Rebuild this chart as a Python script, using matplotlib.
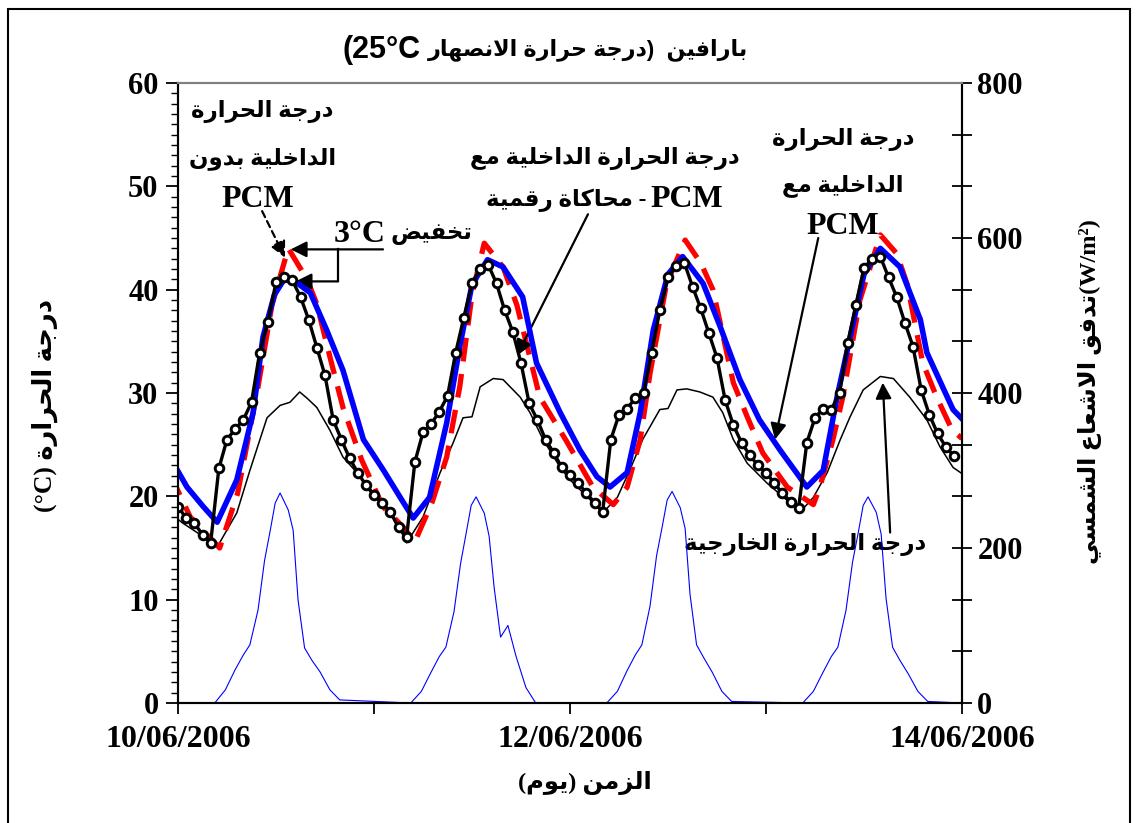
import re
import matplotlib
matplotlib.use("Agg")
import matplotlib.pyplot as plt
from matplotlib.ticker import MultipleLocator, FixedLocator
from matplotlib.patches import Rectangle

# ----------------------------
# DATA  (time in hours from 10/06/2006 00:00)
# ----------------------------
date_ticks = [0, 48, 96]
date_labels = ["10/06/2006", "12/06/2006", "14/06/2006"]

# indoor temperature without PCM (red dashed)
t_nopcm = [-1.0, 1.5, 3.1, 5.1, 7.3, 9.8, 11.5, 13.5, 15.8, 17.0, 18.6, 20.2, 22.5,
           25.1, 27.6, 29.0, 31.1, 32.9, 34.5, 36.0, 37.5, 39.8, 41.5, 44.3, 47.6,
           50.8, 53.3, 55.0, 56.6, 57.8, 59.8, 62.1, 64.0, 65.5, 68.0, 69.7, 71.6,
           74.6, 77.8, 78.6, 80.2, 81.4, 83.5, 86.0, 88.0, 89.3, 91.2, 92.9, 94.8, 96.0]
T_nopcm = [22.2, 18.0, 16.7, 15.0, 20.3, 30.6, 38.5, 44.0, 41.0, 38.6, 33.5, 28.6, 23.5,
           19.0, 17.0, 15.6, 19.4, 23.8, 30.6, 39.5, 44.5, 42.2, 38.5, 29.6, 25.3,
           20.9, 19.2, 20.9, 25.5, 31.9, 40.5, 44.8, 42.6, 40.0, 31.0, 27.7, 24.2,
           20.9, 19.2, 20.9, 25.5, 29.6, 39.0, 45.3, 43.5, 40.5, 32.9, 29.6, 26.4, 25.6]

# indoor temperature with PCM, measured (blue)
t_pcm = [-1.0, 1.1, 3.1, 4.8, 7.2, 9.2, 10.4, 11.8, 13.0, 14.5, 16.2, 18.2, 20.2,
         22.7, 25.1, 27.6, 28.8, 30.8, 32.9, 34.5, 36.0, 37.9, 39.8, 42.2, 43.9,
         46.8, 49.2, 51.3, 52.9, 55.0, 56.6, 58.2, 60.0, 61.8, 64.3, 66.4, 68.8,
         71.2, 73.7, 77.0, 79.0, 80.7, 82.3, 84.0, 86.0, 88.4, 90.9, 91.7, 94.9, 96.0]
T_pcm = [23.8, 20.9, 19.0, 17.5, 21.6, 28.1, 35.4, 39.5, 41.0, 40.7, 39.7, 36.1, 32.2,
         25.5, 22.6, 19.4, 17.9, 19.9, 27.1, 34.5, 40.5, 42.9, 42.2, 39.3, 32.9,
         28.1, 24.5, 21.9, 20.9, 22.3, 28.1, 36.1, 41.5, 43.2, 40.6, 36.4, 31.3,
         27.4, 24.5, 20.9, 22.5, 29.6, 35.4, 41.5, 44.0, 42.2, 37.1, 33.9, 28.4, 27.5]

# indoor temperature with PCM, numerical simulation (black + circles), hourly from -1 h
T_sim = [19.8, 19.0, 17.9, 17.4, 16.3, 15.5, 22.7, 25.5, 26.5, 27.4, 29.1, 33.9, 36.9,
         40.7, 41.2, 40.9, 39.3, 37.1, 34.4, 31.7, 27.4, 25.5, 23.7, 22.3, 21.1,
         20.1, 19.4, 18.5, 17.0, 16.1, 23.3, 26.2, 27.0, 28.2, 29.7, 33.9, 37.3,
         40.6, 42.0, 42.4, 40.6, 38.0, 35.9, 32.9, 29.0, 27.4, 25.5, 24.2, 22.8,
         22.1, 21.3, 20.3, 19.4, 18.5, 25.5, 27.9, 28.5, 29.5, 30.0, 33.9, 38.0,
         41.2, 42.3, 42.6, 40.3, 38.2, 35.8, 33.4, 29.3, 26.9, 25.2, 24.0, 23.0,
         22.3, 21.3, 20.3, 19.5, 18.9, 25.2, 27.6, 28.5, 28.4, 30.0, 34.8, 38.5,
         42.1, 43.0, 43.2, 41.2, 39.3, 36.8, 34.5, 30.3, 27.9, 26.1, 24.8, 23.9]
t_sim = list(range(-1, len(T_sim) - 1))

# outdoor temperature (thin black)
t_out = [-1.0, 0.6, 3.1, 4.8, 7.2, 8.8, 10.9, 12.5, 13.7, 14.9, 15.8, 17.0, 18.6,
         20.2, 21.9, 24.4, 26.8, 28.0, 30.0, 32.1, 33.7, 34.9, 36.0, 37.0, 38.6,
         39.8, 41.9, 43.1, 44.7, 46.8, 48.0, 48.9, 50.8, 52.0, 53.8, 55.3, 56.9,
         59.0, 60.0, 61.1, 62.3, 63.9, 65.5, 66.7, 68.0, 69.7, 72.1, 74.6, 76.2,
         77.8, 79.5, 81.1, 82.3, 83.9, 86.0, 87.6, 89.6, 91.7, 93.3, 94.9, 96.0]
T_out = [18.4, 17.4, 16.1, 15.1, 18.4, 22.5, 27.6, 28.8, 29.1, 30.1, 29.5, 28.6, 26.4,
         23.8, 22.3, 19.9, 17.4, 15.5, 18.0, 22.3, 25.2, 27.6, 27.7, 30.6, 31.4,
         31.3, 29.6, 28.1, 25.5, 22.8, 21.6, 20.9, 19.4, 18.4, 19.9, 22.5, 25.5,
         28.4, 28.5, 30.3, 30.4, 30.1, 29.6, 28.1, 25.5, 23.2, 21.3, 19.6, 18.5,
         19.9, 22.3, 25.5, 27.7, 30.3, 31.6, 31.4, 29.6, 27.4, 24.8, 22.8, 22.2]

# solar radiation (thin blue, right axis): local hour of day and one row per day
rad_hours = [4.5, 5.8, 7.0, 8.0, 8.8, 9.8, 10.6, 11.3, 11.9, 12.5, 13.5, 14.1, 14.7,
             15.5, 16.4, 17.4, 18.6, 19.8]
rad_day1 = [0, 17, 43, 62, 75, 120, 184, 223, 258, 271, 249, 223, 133, 71, 55, 40, 17, 4]
rad_day2 = [0, 15, 40, 60, 72, 118, 180, 220, 255, 266, 245, 215, 150, 85, 100, 60, 20, 0]
rad_day3 = [0, 15, 42, 62, 75, 125, 190, 228, 262, 273, 252, 225, 140, 75, 58, 40, 15, 2]
rad_day4 = [0, 15, 40, 60, 72, 120, 182, 220, 255, 266, 246, 218, 135, 72, 55, 38, 15, 2]


# ----------------------------
# Arabic shaping (matplotlib draws glyphs left to right, no joining)
# ----------------------------
def forms(base, dual=True):
    return (base, base + 1, base + 2, base + 3) if dual else (base, base + 1, None, None)


FORMS = {
    'ا': forms(0xFE8D, False), 'ب': forms(0xFE8F), 'ة': forms(0xFE93, False),
    'ت': forms(0xFE95), 'ج': forms(0xFE9D), 'ح': forms(0xFEA1), 'خ': forms(0xFEA5),
    'د': forms(0xFEA9, False), 'ر': forms(0xFEAD, False), 'ز': forms(0xFEAF, False),
    'س': forms(0xFEB1), 'ش': forms(0xFEB5), 'ص': forms(0xFEB9), 'ض': forms(0xFEBD),
    'ع': forms(0xFEC9), 'ف': forms(0xFED1), 'ق': forms(0xFED5), 'ك': forms(0xFED9),
    'ل': forms(0xFEDD), 'م': forms(0xFEE1), 'ن': forms(0xFEE5), 'ه': forms(0xFEE9),
    'و': forms(0xFEED, False), 'ي': forms(0xFEF1),
}
MIRROR = {'(': ')', ')': '('}


def shape_word(w):
    out, prev_joins, i = [], False, 0
    while i < len(w):
        c = w[i]
        if c == 'ل' and i + 1 < len(w) and w[i + 1] == 'ا':
            out.append(chr(0xFEFC if prev_joins else 0xFEFB))
            prev_joins = False
            i += 2
            continue
        iso, fin, ini, med = FORMS[c]
        if ini is not None and i + 1 < len(w) and w[i + 1] in FORMS:
            out.append(chr(med if prev_joins else ini))
            prev_joins = True
        else:
            out.append(chr(fin if prev_joins else iso))
            prev_joins = False
        i += 1
    return ''.join(reversed(out))


def ar(text):
    runs = re.findall(r'[\u0621-\u064A]+|[A-Za-z0-9°/²]+|\s+|.', text)
    out = []
    for r in reversed(runs):
        if re.match(r'[\u0621-\u064A]', r):
            out.append(shape_word(r))
        else:
            out.append(MIRROR.get(r, r))
    return ''.join(out)


# ----------------------------
# FIGURE
# ----------------------------
plt.rcParams['font.family'] = ['Liberation Serif', 'DejaVu Sans']
plt.rcParams['font.weight'] = 'bold'

W, H = 1136, 823
fig = plt.figure(figsize=(W / 100, H / 100), dpi=100)
ax = fig.add_axes([178 / W, 1 - 703 / H, (962 - 178) / W, (703 - 83) / H])
ax2 = ax.twinx()

ax.plot(t_out, T_out, color='black', lw=1.1, zorder=2)
ax.plot(t_nopcm, T_nopcm, color='#ff0000', lw=3.8, ls=(0, (4.5, 2.4)), zorder=3)
ax.plot(t_pcm, T_pcm, color='#0000ff', lw=4.0, zorder=4)
ax.plot(t_sim, T_sim, color='black', lw=2.4, marker='o', ms=6.2, mfc='white',
        mec='black', mew=2.1, zorder=5)

rad_t, rad_v = [-1.0], [0]
for d, vals in enumerate([rad_day1, rad_day2, rad_day3, rad_day4]):
    rad_t += [24 * d + h for h in rad_hours]
    rad_v += vals
rad_t.append(96.0)
rad_v.append(0)
ax2.plot(rad_t, rad_v, color='#0000ff', lw=0.8)

# axes
ax.set_xlim(0, 96)
ax.set_ylim(0, 60)
ax2.set_ylim(0, 800)
ax.xaxis.set_major_locator(FixedLocator(date_ticks))
ax.set_xticklabels(date_labels)
ax.xaxis.set_minor_locator(FixedLocator([24, 72]))
ax.yaxis.set_major_locator(MultipleLocator(10))
ax.yaxis.set_minor_locator(MultipleLocator(1))
ax2.yaxis.set_major_locator(MultipleLocator(200))
ax2.yaxis.set_minor_locator(MultipleLocator(200 / 3))

ax.tick_params(axis='x', which='both', direction='out', length=8, width=1.3,
               labelsize=23, pad=8)
ax.tick_params(axis='y', which='major', direction='out', length=9, width=1.3,
               labelsize=22, pad=5)
ax.tick_params(axis='y', which='minor', direction='out', length=5, width=1.0)
ax2.tick_params(axis='y', which='both', direction='inout', length=14, width=1.3,
                labelsize=22, pad=4)

for a in (ax, ax2):
    for side in ('left', 'right', 'bottom'):
        a.spines[side].set_linewidth(1.5)
    a.spines['top'].set_color('#808080')
    a.spines['top'].set_linewidth(1.5)

# title: Latin part and Arabic part kept apart so each gets its own size
title_font = ['Liberation Sans', 'DejaVu Sans']
fig.text(421 / W, 1 - 50 / H, ar('25°C)'), family=title_font, fontsize=22,
         weight='bold', ha='right', va='center')
fig.text(428 / W, 1 - 50 / H, ar('بارافين  (درجة حرارة الانصهار'), family=title_font,
         fontsize=16, weight='bold', ha='left', va='center')

# axis labels
fig.text(45 / W, 1 - 405 / H, ar('درجة الحرارة (°C)'), rotation=90, fontsize=18.5,
         ha='center', va='center')
fig.text(1090 / W, 1 - 392 / H, ar('(W/m²)تدفق الاشعاع الشمسي'), rotation=90,
         fontsize=17.5, ha='center', va='center')
fig.text(585 / W, 1 - 783 / H, ar('الزمن (يوم)'), fontsize=17.5, ha='center', va='center')

# outer frame
fig.add_artist(Rectangle((8 / W, -0.05), (1130 - 8) / W, 1.05 - 9 / H,
                         transform=fig.transFigure, fill=False, ec='black', lw=1.5))

# annotations
txt = dict(fontsize=16.5, ha='center', va='center', zorder=10)
pcm = dict(fontsize=23, ha='center', va='center', zorder=10)
head = dict(arrowstyle='-|>', color='black', lw=1.6, mutation_scale=24,
            shrinkA=0, shrinkB=0)

# without PCM
ax.text(10.3, 57.2, ar('درجة الحرارة'), **txt)
ax.text(10.3, 52.7, ar('الداخلية بدون'), **txt)
ax.text(9.8, 48.7, 'PCM', **pcm)
ax.annotate('', xy=(13.1, 43.1), xytext=(10.3, 47.6),
            arrowprops=dict(head, ls=(0, (3, 2))))

# 3°C reduction bracket
ax.text(25.4, 45.3, '3°C', **dict(pcm, ha='right'))
ax.text(26.0, 45.3, ar('تخفيض'), **dict(txt, ha='left'))
ax.annotate('', xy=(13.8, 43.9), xytext=(25.1, 43.9), arrowprops=head)
ax.plot([19.6, 19.6], [43.9, 40.8], color='black', lw=1.6)
ax.annotate('', xy=(14.4, 40.8), xytext=(19.6, 40.8), arrowprops=head)

# with PCM - numerical simulation
ax.text(52.3, 52.7, ar('درجة الحرارة الداخلية مع'), **txt)
ax.text(57.3, 48.7, ar('- محاكاة رقمية'), **dict(txt, ha='right'))
ax.text(57.8, 48.7, 'PCM', **dict(pcm, ha='left'))
ax.annotate('', xy=(41.5, 33.6), xytext=(50.2, 47.3), arrowprops=head)

# with PCM
ax.text(81.4, 54.5, ar('درجة الحرارة'), **txt)
ax.text(81.4, 50.1, ar('الداخلية مع'), **txt)
ax.text(81.4, 46.1, 'PCM', **pcm)
ax.annotate('', xy=(73.1, 25.5), xytext=(78.4, 45.0), arrowprops=head)

# outdoor
ax.text(76.8, 15.3, ar('درجة الحرارة الخارجية'), **txt)
ax.annotate('', xy=(86.3, 31.0), xytext=(87.2, 16.5), arrowprops=head)

fig.savefig('out.png', dpi=100)
